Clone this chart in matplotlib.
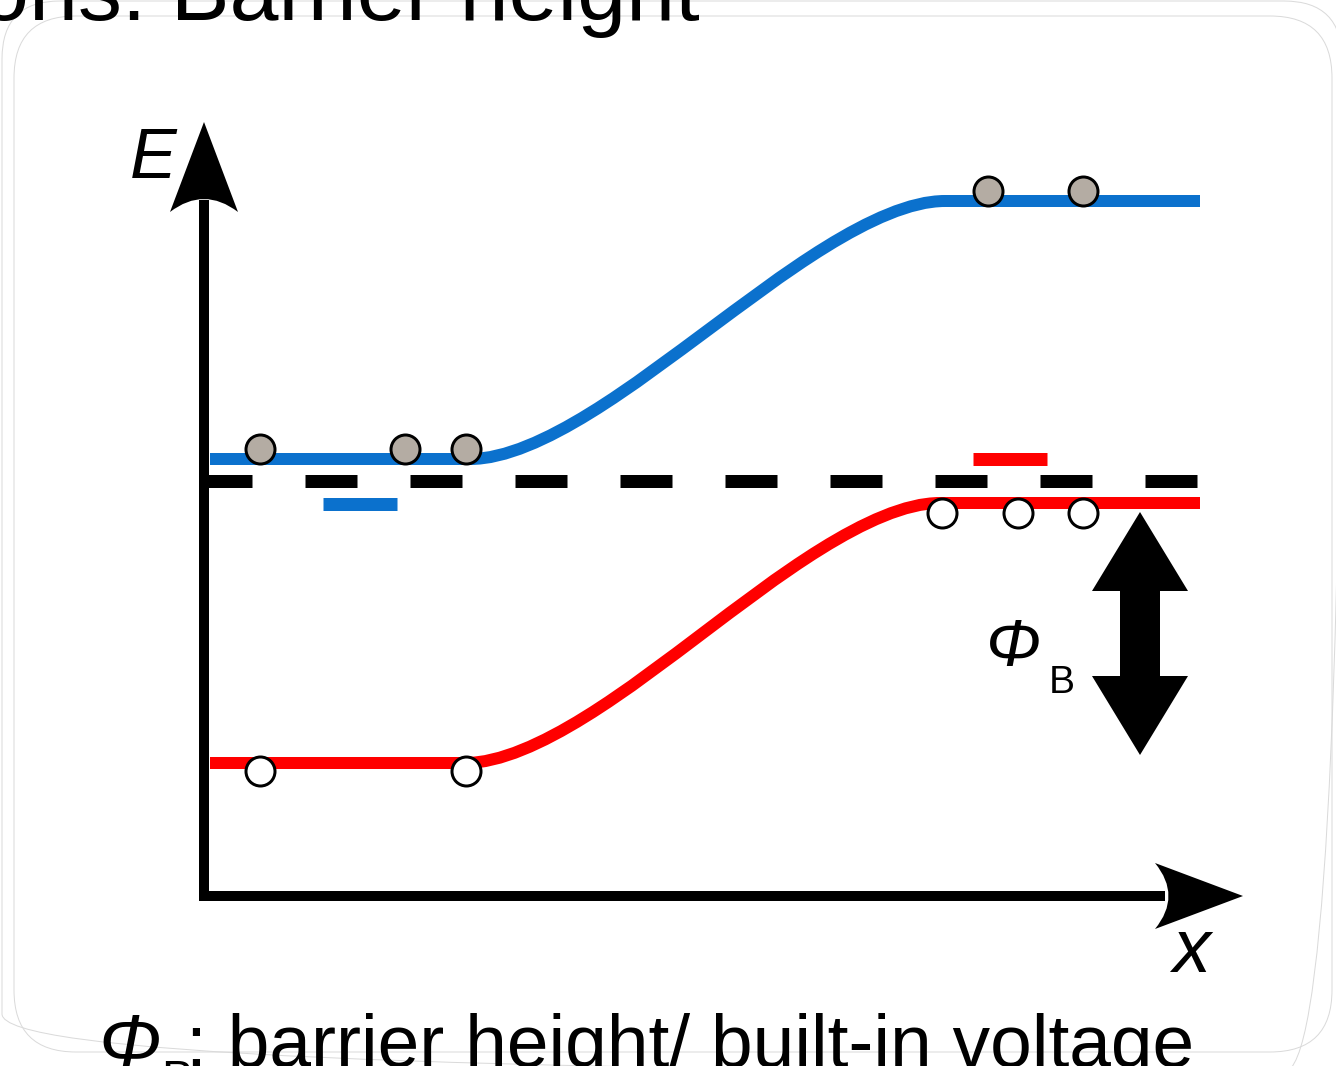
import matplotlib
matplotlib.use("Agg")
import matplotlib.pyplot as plt
from matplotlib.path import Path
from matplotlib.patches import PathPatch, Polygon, FancyBboxPatch

plt.rcParams['font.family'] = ['Liberation Sans', 'DejaVu Sans']
plt.rcParams['lines.scale_dashes'] = False

W, H = 1336, 1066
PX = 0.72  # points per pixel at dpi 100

# band edges: flat start, cubic bezier to the middle, cubic bezier to the flat end
blue_band_x = [210, 470, 540, 640, 708, 776, 876, 945, 1200]
blue_band_y = [459, 459, 459, 380, 330, 280, 201, 201, 201]
red_band_x = [210, 465, 535, 635, 703, 771, 871, 940, 1200]
red_band_y = [763, 763, 763, 684, 633, 582, 503, 503, 503]

# electrons (grey) and holes (white)
electron_x = [260, 405, 466, 988, 1083]
electron_y = [449, 449, 449, 191, 191]
hole_x = [260, 466, 942, 1018, 1083]
hole_y = [771, 771, 513, 513, 513]

# fermi level (dashed) and the two short level marks
fermi_x = [200, 1200]
fermi_y = [481, 481]
blue_mark_x = [323, 397]
blue_mark_y = [504, 504]
red_mark_x = [973, 1047]
red_mark_y = [459, 459]

BLUE = '#0b71cd'
RED = '#ff0000'
GREY = '#b4aca3'


def band_path(xs, ys):
    pts = list(zip(xs, ys))
    codes = [Path.MOVETO, Path.LINETO] + [Path.CURVE4] * 6 + [Path.LINETO]
    return Path(pts, codes)


fig = plt.figure(figsize=(W / 100, H / 100), dpi=100)
ax = fig.add_axes([0, 0, 1, 1])
ax.set_xlim(0, W)
ax.set_ylim(H, 0)
ax.axis('off')

# slide frame
for (x0, y0, x1, y1, r) in [(2, 1, 1342, 1072, 58), (14, 16, 1332, 1052, 62)]:
    ax.add_patch(FancyBboxPatch((x0 + r, y0 + r), x1 - x0 - 2 * r, y1 - y0 - 2 * r,
                                boxstyle=f"round,pad={r}", fill=False,
                                edgecolor='#dadada', lw=1.0 * PX, zorder=0))

# bands
ax.add_patch(PathPatch(band_path(blue_band_x, blue_band_y), fill=False,
                       edgecolor=BLUE, lw=12 * PX, capstyle='butt', zorder=2))
ax.add_patch(PathPatch(band_path(red_band_x, red_band_y), fill=False,
                       edgecolor=RED, lw=12 * PX, capstyle='butt', zorder=2))

ax.plot(fermi_x, fermi_y, color='black', lw=13 * PX, solid_capstyle='butt',
        dash_capstyle='butt', linestyle=(0, (52 * PX, 53 * PX)), zorder=2)
ax.plot(blue_mark_x, blue_mark_y, color=BLUE, lw=13 * PX, solid_capstyle='butt', zorder=2)
ax.plot(red_mark_x, red_mark_y, color=RED, lw=13 * PX, solid_capstyle='butt', zorder=2)

ax.scatter(electron_x, electron_y, s=(29 * PX) ** 2, color=GREY, edgecolor='black',
           linewidth=3 * PX, zorder=4)
ax.scatter(hole_x, hole_y, s=(29 * PX) ** 2, color='white', edgecolor='black',
           linewidth=3 * PX, zorder=4)

# axes with barbed arrowheads
ax.plot([204, 204], [901, 200], color='black', lw=10 * PX, solid_capstyle='butt', zorder=3)
ax.plot([199, 1165], [896, 896], color='black', lw=10 * PX, solid_capstyle='butt', zorder=3)
up_head = Path([(204, 122), (238, 212), (204, 186), (170, 212), (204, 122)],
               [Path.MOVETO, Path.LINETO, Path.CURVE3, Path.CURVE3, Path.LINETO])
ax.add_patch(PathPatch(up_head, facecolor='black', edgecolor='none', zorder=3))
right_head = Path([(1243, 896), (1155, 929), (1182, 896), (1155, 863), (1243, 896)],
                  [Path.MOVETO, Path.LINETO, Path.CURVE3, Path.CURVE3, Path.LINETO])
ax.add_patch(PathPatch(right_head, facecolor='black', edgecolor='none', zorder=3))

# double arrow for the barrier height
dbl = [(1140, 512), (1188, 591), (1160, 591), (1160, 676), (1188, 676), (1140, 755),
       (1092, 676), (1120, 676), (1120, 591), (1092, 591)]
ax.add_patch(Polygon(dbl, closed=True, facecolor='black', edgecolor='none', zorder=3))

# labels
ax.text(130, 178, 'E', fontsize=70 * PX, style='italic', ha='left', va='baseline')
ax.text(1172, 972, 'x', fontsize=76 * PX, style='italic', ha='left', va='baseline')
ax.text(986, 666, 'Φ', fontsize=66 * PX, style='italic', ha='left', va='baseline')
ax.text(1049, 693, 'B', fontsize=39 * PX, ha='left', va='baseline')

ax.text(-20, 20, 'ons: Barrier height', fontsize=88 * PX, ha='left', va='baseline')
ax.text(98, 1067, 'Φ', fontsize=75 * PX, style='italic', ha='left', va='baseline')
ax.text(161, 1094, 'B', fontsize=48 * PX, ha='left', va='baseline')
ax.text(186, 1067, ': barrier height/ built-in voltage', fontsize=75 * PX,
        ha='left', va='baseline')

fig.savefig('out.png', dpi=100)
